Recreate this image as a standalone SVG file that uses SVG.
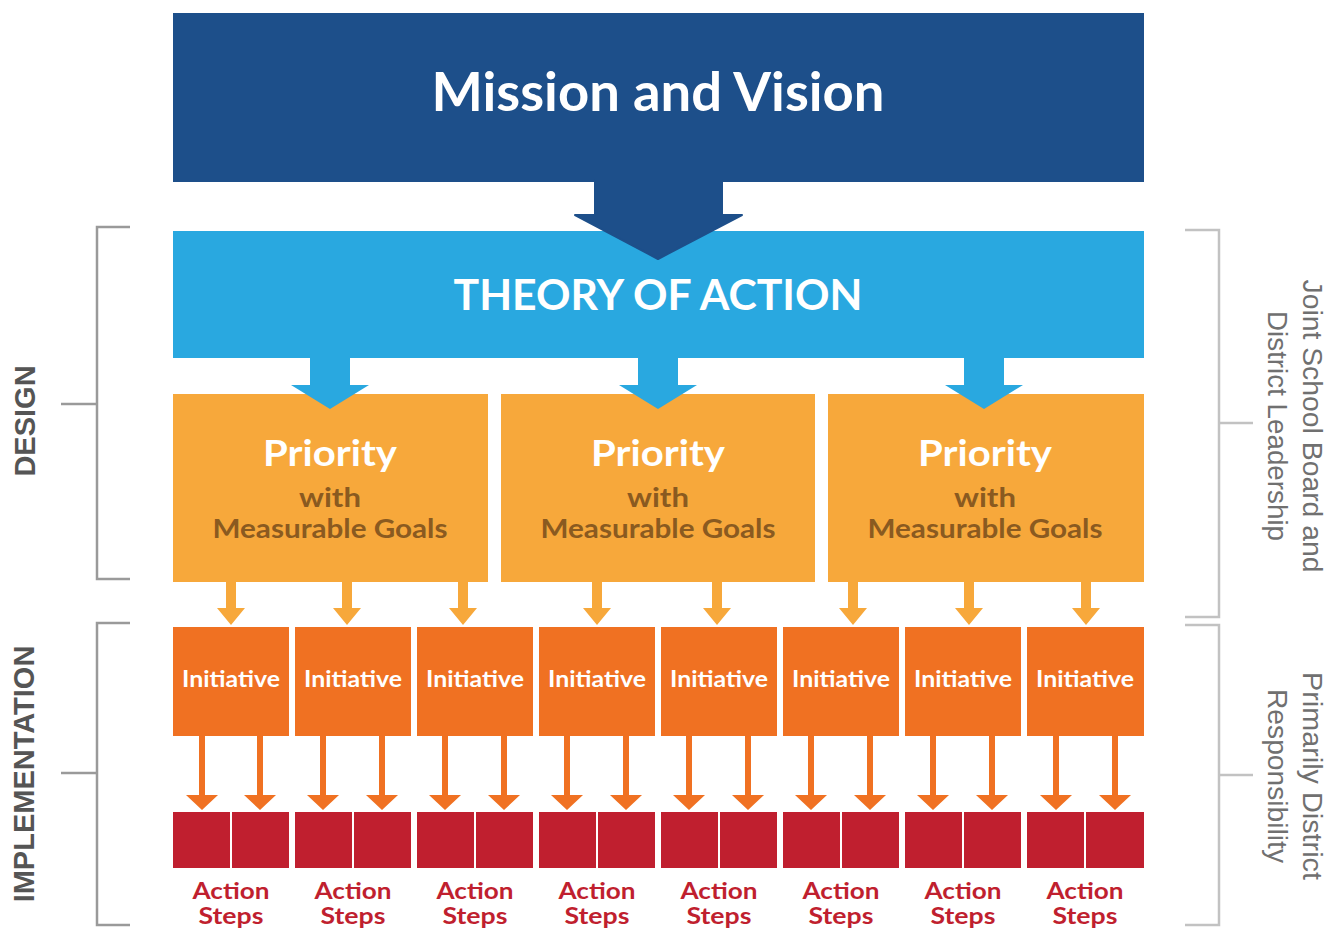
<svg xmlns="http://www.w3.org/2000/svg" width="1338" height="930" viewBox="0 0 1338 930">
<defs>
<style>
.box-t{font-family:Lato,"Noto Sans",sans-serif;font-weight:bold;text-anchor:middle}
.white{fill:#ffffff}
.brown{fill:#8a5a20}
.red{fill:#c01f2f}
.lbl{font-family:"Liberation Sans",Arial,sans-serif;font-weight:bold;fill:#555555;text-anchor:middle;font-size:29px}
.rlbl{font-family:"Liberation Sans",Arial,sans-serif;fill:#707070;text-anchor:middle;font-size:27px}
.brL{fill:none;stroke:#9a9a9a;stroke-width:2.5}
.brR{fill:none;stroke:#c2c2c2;stroke-width:2.5}
.init{fill:#f07122}
.act{fill:#c01f2f}
.pri{fill:#f7a83b}
.a1{fill:#f7a83b}
.a2{fill:#f07122}
.a3{fill:#29a8e0}
</style>
</defs>

<g id="mission">
<rect x="173" y="13" width="971" height="169" fill="#1d4f8a"/>
<text class="box-t white" x="658" y="111" font-size="54" textLength="453" lengthAdjust="spacingAndGlyphs">Mission and Vision</text>
</g>

<g id="theory">
<rect x="173" y="231" width="971" height="127" fill="#29a8e0"/>
<text class="box-t white" x="658" y="310" font-size="42" textLength="409" lengthAdjust="spacingAndGlyphs">THEORY OF ACTION</text>
</g>

<g id="priority1">
<rect class="pri" x="173" y="394" width="315" height="188"/>
<text class="box-t white" x="330" y="466" font-size="36" textLength="134" lengthAdjust="spacingAndGlyphs">Priority</text>
<text class="box-t brown" x="330" y="507" font-size="27" textLength="62" lengthAdjust="spacingAndGlyphs">with</text>
<text class="box-t brown" x="330" y="538" font-size="27" textLength="235" lengthAdjust="spacingAndGlyphs">Measurable Goals</text>
</g>
<g id="priority2">
<rect class="pri" x="501" y="394" width="314" height="188"/>
<text class="box-t white" x="658" y="466" font-size="36" textLength="134" lengthAdjust="spacingAndGlyphs">Priority</text>
<text class="box-t brown" x="658" y="507" font-size="27" textLength="62" lengthAdjust="spacingAndGlyphs">with</text>
<text class="box-t brown" x="658" y="538" font-size="27" textLength="235" lengthAdjust="spacingAndGlyphs">Measurable Goals</text>
</g>
<g id="priority3">
<rect class="pri" x="828" y="394" width="316" height="188"/>
<text class="box-t white" x="985" y="466" font-size="36" textLength="134" lengthAdjust="spacingAndGlyphs">Priority</text>
<text class="box-t brown" x="985" y="507" font-size="27" textLength="62" lengthAdjust="spacingAndGlyphs">with</text>
<text class="box-t brown" x="985" y="538" font-size="27" textLength="235" lengthAdjust="spacingAndGlyphs">Measurable Goals</text>
</g>

<g id="initiatives">
<g id="init1"><rect class="init" x="173" y="627" width="116" height="109"/><text class="box-t white" x="231" y="687" font-size="23" textLength="98" lengthAdjust="spacingAndGlyphs">Initiative</text></g>
<g id="init2"><rect class="init" x="295" y="627" width="116" height="109"/><text class="box-t white" x="353" y="687" font-size="23" textLength="98" lengthAdjust="spacingAndGlyphs">Initiative</text></g>
<g id="init3"><rect class="init" x="417" y="627" width="116" height="109"/><text class="box-t white" x="475" y="687" font-size="23" textLength="98" lengthAdjust="spacingAndGlyphs">Initiative</text></g>
<g id="init4"><rect class="init" x="539" y="627" width="116" height="109"/><text class="box-t white" x="597" y="687" font-size="23" textLength="98" lengthAdjust="spacingAndGlyphs">Initiative</text></g>
<g id="init5"><rect class="init" x="661" y="627" width="116" height="109"/><text class="box-t white" x="719" y="687" font-size="23" textLength="98" lengthAdjust="spacingAndGlyphs">Initiative</text></g>
<g id="init6"><rect class="init" x="783" y="627" width="116" height="109"/><text class="box-t white" x="841" y="687" font-size="23" textLength="98" lengthAdjust="spacingAndGlyphs">Initiative</text></g>
<g id="init7"><rect class="init" x="905" y="627" width="116" height="109"/><text class="box-t white" x="963" y="687" font-size="23" textLength="98" lengthAdjust="spacingAndGlyphs">Initiative</text></g>
<g id="init8"><rect class="init" x="1027" y="627" width="117" height="109"/><text class="box-t white" x="1085" y="687" font-size="23" textLength="98" lengthAdjust="spacingAndGlyphs">Initiative</text></g>
</g>

<g id="actions">
<g id="act1"><rect class="act" x="173" y="812" width="57" height="56"/><rect class="act" x="232" y="812" width="57" height="56"/><text class="box-t red" x="231" y="899" font-size="22" textLength="77" lengthAdjust="spacingAndGlyphs">Action</text><text class="box-t red" x="231" y="924" font-size="22" textLength="65" lengthAdjust="spacingAndGlyphs">Steps</text></g>
<g id="act2"><rect class="act" x="295" y="812" width="57" height="56"/><rect class="act" x="354" y="812" width="57" height="56"/><text class="box-t red" x="353" y="899" font-size="22" textLength="77" lengthAdjust="spacingAndGlyphs">Action</text><text class="box-t red" x="353" y="924" font-size="22" textLength="65" lengthAdjust="spacingAndGlyphs">Steps</text></g>
<g id="act3"><rect class="act" x="417" y="812" width="57" height="56"/><rect class="act" x="476" y="812" width="57" height="56"/><text class="box-t red" x="475" y="899" font-size="22" textLength="77" lengthAdjust="spacingAndGlyphs">Action</text><text class="box-t red" x="475" y="924" font-size="22" textLength="65" lengthAdjust="spacingAndGlyphs">Steps</text></g>
<g id="act4"><rect class="act" x="539" y="812" width="57" height="56"/><rect class="act" x="598" y="812" width="57" height="56"/><text class="box-t red" x="597" y="899" font-size="22" textLength="77" lengthAdjust="spacingAndGlyphs">Action</text><text class="box-t red" x="597" y="924" font-size="22" textLength="65" lengthAdjust="spacingAndGlyphs">Steps</text></g>
<g id="act5"><rect class="act" x="661" y="812" width="57" height="56"/><rect class="act" x="720" y="812" width="57" height="56"/><text class="box-t red" x="719" y="899" font-size="22" textLength="77" lengthAdjust="spacingAndGlyphs">Action</text><text class="box-t red" x="719" y="924" font-size="22" textLength="65" lengthAdjust="spacingAndGlyphs">Steps</text></g>
<g id="act6"><rect class="act" x="783" y="812" width="57" height="56"/><rect class="act" x="842" y="812" width="57" height="56"/><text class="box-t red" x="841" y="899" font-size="22" textLength="77" lengthAdjust="spacingAndGlyphs">Action</text><text class="box-t red" x="841" y="924" font-size="22" textLength="65" lengthAdjust="spacingAndGlyphs">Steps</text></g>
<g id="act7"><rect class="act" x="905" y="812" width="57" height="56"/><rect class="act" x="964" y="812" width="57" height="56"/><text class="box-t red" x="963" y="899" font-size="22" textLength="77" lengthAdjust="spacingAndGlyphs">Action</text><text class="box-t red" x="963" y="924" font-size="22" textLength="65" lengthAdjust="spacingAndGlyphs">Steps</text></g>
<g id="act8"><rect class="act" x="1027" y="812" width="57" height="56"/><rect class="act" x="1086" y="812" width="58" height="56"/><text class="box-t red" x="1085" y="899" font-size="22" textLength="77" lengthAdjust="spacingAndGlyphs">Action</text><text class="box-t red" x="1085" y="924" font-size="22" textLength="65" lengthAdjust="spacingAndGlyphs">Steps</text></g>
</g>

<g id="connectors">
<polygon fill="#1d4f8a" stroke="#1d4f8a" stroke-width="2" stroke-linejoin="round" points="595,180 722,180 722,215 742,215 658,259 575,215 595,215"/>
<polygon class="a3" points="310,356 350,356 350,385 369,385 330,409 291,385 310,385"/>
<polygon class="a3" points="638,356 678,356 678,385 697,385 658,409 619,385 638,385"/>
<polygon class="a3" points="964,356 1004,356 1004,385 1023,385 984,409 945,385 964,385"/>
<g class="a1">
<polygon points="226,580 236,580 236,608 245,608 231,625 217,608 226,608"/>
<polygon points="342,580 352,580 352,608 361,608 347,625 333,608 342,608"/>
<polygon points="458,580 468,580 468,608 477,608 463,625 449,608 458,608"/>
<polygon points="592,580 602,580 602,608 611,608 597,625 583,608 592,608"/>
<polygon points="712,580 722,580 722,608 731,608 717,625 703,608 712,608"/>
<polygon points="848,580 858,580 858,608 867,608 853,625 839,608 848,608"/>
<polygon points="964,580 974,580 974,608 983,608 969,625 955,608 964,608"/>
<polygon points="1081,580 1091,580 1091,608 1100,608 1086,625 1072,608 1081,608"/>
</g>
<g class="a2">
<polygon points="199,734 205,734 205,795 218,795 202,810 186,795 199,795"/>
<polygon points="257,734 263,734 263,795 276,795 260,810 244,795 257,795"/>
<polygon points="320,734 326,734 326,795 339,795 323,810 307,795 320,795"/>
<polygon points="379,734 385,734 385,795 398,795 382,810 366,795 379,795"/>
<polygon points="442,734 448,734 448,795 461,795 445,810 429,795 442,795"/>
<polygon points="501,734 507,734 507,795 520,795 504,810 488,795 501,795"/>
<polygon points="564,734 570,734 570,795 583,795 567,810 551,795 564,795"/>
<polygon points="623,734 629,734 629,795 642,795 626,810 610,795 623,795"/>
<polygon points="686,734 692,734 692,795 705,795 689,810 673,795 686,795"/>
<polygon points="745,734 751,734 751,795 764,795 748,810 732,795 745,795"/>
<polygon points="808,734 814,734 814,795 827,795 811,810 795,795 808,795"/>
<polygon points="867,734 873,734 873,795 886,795 870,810 854,795 867,795"/>
<polygon points="930,734 936,734 936,795 949,795 933,810 917,795 930,795"/>
<polygon points="989,734 995,734 995,795 1008,795 992,810 976,795 989,795"/>
<polygon points="1053,734 1059,734 1059,795 1072,795 1056,810 1040,795 1053,795"/>
<polygon points="1112,734 1118,734 1118,795 1131,795 1115,810 1099,795 1112,795"/>
</g>
</g>

<g id="design-bracket">
<path class="brL" d="M130,227 H97 V579 H130 M61,404 H97"/>
<text class="lbl" transform="translate(35,421) rotate(-90)" x="0" y="0">DESIGN</text>
</g>
<g id="implementation-bracket">
<path class="brL" d="M130,623 H97 V925 H130 M61,773 H97"/>
<text class="lbl" transform="translate(34,774) rotate(-90)" x="0" y="0">IMPLEMENTATION</text>
</g>
<g id="leadership-bracket">
<path class="brR" d="M1185,230 H1219 V617 H1185 M1219,423 H1253"/>
<text class="rlbl" transform="translate(1303,426) rotate(90)" x="0" y="0" textLength="293" lengthAdjust="spacingAndGlyphs">Joint School Board and</text>
<text class="rlbl" transform="translate(1268,426) rotate(90)" x="0" y="0" textLength="230" lengthAdjust="spacingAndGlyphs">District Leadership</text>
</g>
<g id="district-bracket">
<path class="brR" d="M1185,625 H1219 V925 H1185 M1219,775 H1253"/>
<text class="rlbl" transform="translate(1303,776) rotate(90)" x="0" y="0" textLength="208" lengthAdjust="spacingAndGlyphs">Primarily District</text>
<text class="rlbl" transform="translate(1268,776) rotate(90)" x="0" y="0" textLength="174" lengthAdjust="spacingAndGlyphs">Responsibility</text>
</g>
</svg>
